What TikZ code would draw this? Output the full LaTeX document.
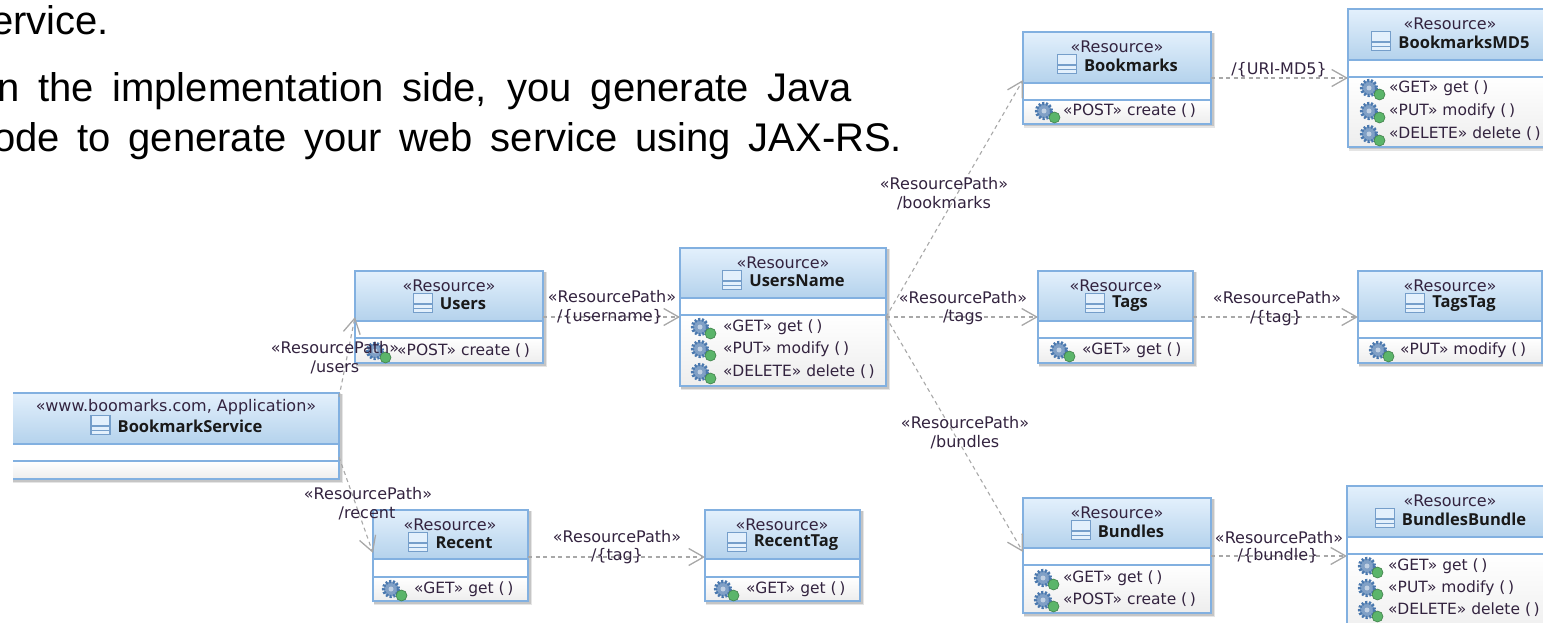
\documentclass[tikz,border=0pt]{standalone}
\usepackage{fontspec}
\setmainfont{DejaVu Sans}
\newfontfamily\slidefont{Liberation Sans}
\newfontfamily\titlefont{Open Sans}[BoldFont=* Bold]
\usetikzlibrary{arrows.meta}
\definecolor{boxline}{HTML}{82B0E0}
\definecolor{headtop}{HTML}{E3F0FC}
\definecolor{headbot}{HTML}{B4D2EC}
\definecolor{inktext}{HTML}{33233F}
\definecolor{linkgray}{HTML}{A8A8A8}
\definecolor{gearblue}{HTML}{4A78AE}
\definecolor{dotgreen}{HTML}{5BB56A}
\newcommand{\pr}{(\,)}
\tikzset{
  x=1pt,y=-1pt,
  part/.style={draw=boxline,line width=1.4pt,anchor=north west,inner sep=0pt,outer sep=0pt},
  stereo/.style={font=\fontsize{16}{18}\selectfont,text=inktext,inner sep=0pt},
  classname/.style={font=\titlefont\fontsize{16.5}{18}\selectfont\bfseries,text=black!90,inner sep=0pt},
  optext/.style={font=\fontsize{15.5}{18}\selectfont,text=inktext,inner sep=0pt,anchor=west},
  pathlabel/.style={font=\fontsize{16}{18}\selectfont,text=inktext,inner sep=0pt},
  slide/.style={font=\slidefont\fontsize{40}{44}\selectfont,inner sep=0pt,anchor=base west,text=black},
  link/.style={draw=linkgray,line width=1.1pt,dash pattern=on 4pt off 3.5pt,-{Straight Barb[length=15pt,width=17pt,line width=1.3pt]}},
  classicon/.pic={
    \draw[draw=boxline!90!black,line width=1.2pt,fill=headtop] (-10,-10) rectangle (10,10);
    \draw[draw=boxline!90!black,line width=1.2pt] (-10,1) -- (10,1) (-10,5.5) -- (10,5.5);
  },
  gearicon/.pic={
    \draw[draw=gearblue,line width=3.2pt,dash pattern=on 2pt off 1.7pt,fill=gearblue!70!white] (0,0) circle (7.5);
    \fill[white!65!gearblue] (0,0) circle (2.5);
    \fill[dotgreen,draw=dotgreen!70!black,line width=.6pt] (10.5,6.5) circle (5.5);
  },
}
\begin{document}
\begin{tikzpicture}
\useasboundingbox (0,0) rectangle (1543,623);
\clip (0,0) rectangle (1543,623);
\foreach \bn/\xa/\xb/\ya/\yh/\ym/\yb/\cx/\stx/\ttx in {
  book/-20/339/393/444/461/479/176/{«www.boomarks.com, Application»}/BookmarkService,
  users/355/543/271/321/338/363/449/«Resource»/Users,
  usersname/680/886/248/298/315/386/783/«Resource»/UsersName,
  bookmarks/1023/1211/32/83/100/124/1117/«Resource»/Bookmarks,
  bookmarksmd/1348/1552/9/60/77/147/1450/«Resource»/BookmarksMD5,
  tagsbox/1038/1193/271/321/338/363/1116/«Resource»/Tags,
  tagstag/1358/1542/271/321/338/363/1450/«Resource»/TagsTag,
  bundles/1023/1211/498/548/565/613/1117/«Resource»/Bundles,
  bundlesbundle/1347/1553/486/537/554/640/1450/«Resource»/BundlesBundle,
  recent/373/528/510/559/577/601/450/«Resource»/Recent,
  recenttag/705/860/510/559/577/601/782/«Resource»/RecentTag%
}{
  \pgfmathsetmacro{\bw}{\xb-\xa}
  \pgfmathsetmacro{\hhead}{\yh-\ya}
  \pgfmathsetmacro{\hattr}{\ym-\yh}
  \pgfmathsetmacro{\hoper}{\yb-\ym}
  \fill[black,opacity=.10] (\xa+1,\ya+1) rectangle (\xb+4,\yb+4);
  \fill[black,opacity=.14] (\xa+1,\ya+1) rectangle (\xb+2.5,\yb+2.5);
  \node[part,minimum width=\bw pt,minimum height=\hhead pt,top color=headtop,bottom color=headbot] (\bn-h) at (\xa,\ya) {};
  \node[part,minimum width=\bw pt,minimum height=\hattr pt,fill=white] (\bn-a) at (\xa,\yh) {};
  \node[part,minimum width=\bw pt,minimum height=\hoper pt,top color=white,bottom color=black!7] (\bn-o) at (\xa,\ym) {};
  \node[stereo] (\bn-st) at (\cx,\ya+14.5) {\stx};
  \node[classname] (\bn-ti) at (\cx+14,\ya+33) {\ttx};
  \path (\bn-ti.west) ++(-17,-1) pic[scale=.95] {classicon};
}
% white margin left of the cropped application box
\fill[white] (-1,380) rectangle (13,500);
% operations
\foreach \gx/\tx/\oy/\optx [count=\k] in {
  375/397/351/«POST» create \pr,
  700/723/327/«GET» get \pr,
  700/723/349/«PUT» modify \pr,
  700/723/372/«DELETE» delete \pr,
  1044/1063/111/«POST» create \pr,
  1369/1389/88/«GET» get \pr,
  1369/1389/111/«PUT» modify \pr,
  1369/1389/134/«DELETE» delete \pr,
  1059/1082/350/«GET» get \pr,
  1378/1400/350/«PUT» modify \pr,
  1043/1063/578/«GET» get \pr,
  1043/1063/600/«POST» create \pr,
  1367/1388/566/«GET» get \pr,
  1367/1388/588/«PUT» modify \pr,
  1367/1388/610/«DELETE» delete \pr,
  391/414/589/«GET» get \pr,
  723/746/589/«GET» get \pr%
}{
  \path (\gx,\oy) pic {gearicon};
  \node[optext] (op\k) at (\tx,\oy) {\optx};
}
% connectors
\draw[link] ([yshift=-4pt]book-h.north east) -- ([yshift=4pt]users-h.south west);
\draw[link] ([yshift=4pt]book-a.south east) -- ([yshift=6pt]recent-h.south west);
\draw[link] ([yshift=4pt]users-h.south east) -- ([yshift=-2pt]usersname-a.south west);
\draw[link] ([yshift=-2pt]usersname-a.south east) -- ([yshift=3pt]bookmarks-h.south west);
\draw[link] ([yshift=-2pt]usersname-a.south east) -- ([yshift=4pt]tagsbox-h.south west);
\draw[link] ([yshift=-2pt]usersname-a.south east) -- ([yshift=-4pt]bundles-h.south west);
\draw[link] ([yshift=5pt]bookmarks-h.south east) -- ([yshift=-1pt]bookmarksmd-a.south west);
\draw[link] ([yshift=4pt]tagsbox-h.south east) -- ([yshift=4pt]tagstag-h.south west);
\draw[link] ([yshift=-8pt]bundles-h.south east) -- ([yshift=-2pt]bundlesbundle-a.south west);
\draw[link] ([yshift=2pt]recent-h.south east) -- ([yshift=2pt]recenttag-h.south west);
% connector labels
\node[pathlabel] (l1a) at (335,348) {«ResourcePath»};
\node[pathlabel] (l1b) at (335,367) {/users};
\node[pathlabel] (l2a) at (612,297) {«ResourcePath»};
\node[pathlabel] (l2b) at (610,317) {/\{username\}};
\node[pathlabel] (l3a) at (963,298) {«ResourcePath»};
\node[pathlabel] (l3b) at (963,317) {/tags};
\node[pathlabel] (l4a) at (944,184) {«ResourcePath»};
\node[pathlabel] (l4b) at (944,203) {/bookmarks};
\node[pathlabel] (l5a) at (965,423) {«ResourcePath»};
\node[pathlabel] (l5b) at (965,442) {/bundles};
\node[pathlabel] (l6) at (1279,70) {/\{URI-MD5\}};
\node[pathlabel] (l7a) at (1277,298) {«ResourcePath»};
\node[pathlabel] (l7b) at (1276,318) {/\{tag\}};
\node[pathlabel] (l8a) at (1279,538) {«ResourcePath»};
\node[pathlabel] (l8b) at (1278,556) {/\{bundle\}};
\node[pathlabel] (l9a) at (368,494) {«ResourcePath»};
\node[pathlabel] (l9b) at (367,513) {/recent};
\node[pathlabel] (l10a) at (617,537) {«ResourcePath»};
\node[pathlabel] (l10b) at (617,556) {/\{tag\}};
% slide text
\node[slide] (s1) at (-9,35) {ervice.};
\node[slide] (s2) at (-3,102) {\makebox[855pt][s]{n the implementation side, you generate Java}};
\node[slide] (s3) at (-7,152) {\makebox[909pt][s]{ode to generate your web service using JAX-RS.}};
\end{tikzpicture}
\end{document}
